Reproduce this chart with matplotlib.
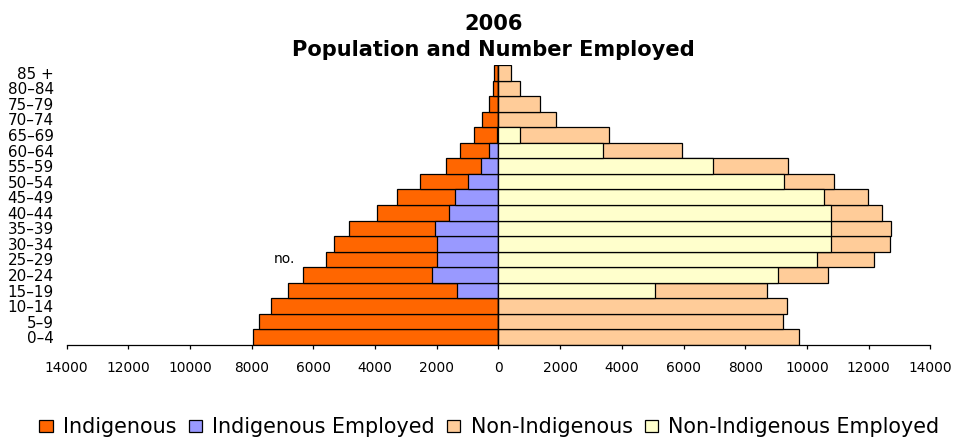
import matplotlib
matplotlib.use("Agg")
import matplotlib.pyplot as plt
from matplotlib.patches import Patch
from matplotlib.ticker import FuncFormatter
import numpy as np

ages = ["0–4", "5–9", "10–14", "15–19", "20–24", "25–29", "30–34", "35–39", "40–44",
        "45–49", "50–54", "55–59", "60–64", "65–69", "70–74", "75–79", "80–84", "85 +"]
indigenous = [7970, 7770, 7360, 6830, 6330, 5580, 5330, 4840, 3940,
              3290, 2540, 1700, 1250, 800, 550, 310, 170, 160]
indigenous_employed = [0, 0, 0, 1360, 2150, 2000, 2000, 2050, 1600,
                       1400, 990, 560, 300, 60, 0, 0, 0, 0]
non_indigenous = [9750, 9240, 9340, 8690, 10690, 12190, 12680, 12740, 12430,
                  11970, 10890, 9400, 5960, 3570, 1850, 1340, 690, 390]
non_indigenous_employed = [0, 0, 0, 5080, 9050, 10340, 10790, 10790, 10790,
                           10540, 9250, 6960, 3380, 690, 0, 0, 0, 0]
xticks = [-14000, -12000, -10000, -8000, -6000, -4000, -2000, 0,
          2000, 4000, 6000, 8000, 10000, 12000, 14000]

c_ind = "#FF6600"
c_ind_emp = "#9999FF"
c_non = "#FFCC99"
c_non_emp = "#FFFFCC"

W, H = 954, 437
fig = plt.figure(figsize=(W / 100, H / 100), dpi=100)
ax = fig.add_axes([66.7 / W, 1 - 345 / H, (930.3 - 66.7) / W, (345 - 65) / H])

y = np.arange(len(ages))
kw = dict(height=1.0, edgecolor="black", linewidth=0.9)
ax.barh(y, -np.array(indigenous), color=c_ind, **kw)
ax.barh(y, -np.array(indigenous_employed), color=c_ind_emp, **kw)
ax.barh(y, non_indigenous, color=c_non, **kw)
ax.barh(y, non_indigenous_employed, color=c_non_emp, **kw)

ax.set_xlim(-14000, 14000)
ax.set_ylim(-0.5, len(ages) - 0.5)
ax.set_xticks(xticks)
ax.xaxis.set_major_formatter(FuncFormatter(lambda v, p: f"{abs(int(v))}"))
ax.tick_params(axis="x", direction="out", length=3, width=0.9, pad=8.6, labelsize=9.9)
ax.set_yticks(y)
ax.set_yticklabels(ages)
ax.tick_params(axis="y", length=0, pad=9.4, labelsize=10.9)
for s in ["left", "right", "top"]:
    ax.spines[s].set_visible(False)
ax.spines["bottom"].set_linewidth(0.9)

ax.text(-6950, 5, "no.", ha="center", va="center", fontsize=10)

fig.text(493.5 / W, 1 - 23.5 / H, "2006", ha="center", va="center",
         fontsize=15.1, fontweight="bold")
fig.text(493.5 / W, 1 - 49.5 / H, "Population and Number Employed", ha="center",
         va="center", fontsize=15.1, fontweight="bold")

handles = [Patch(facecolor=c, edgecolor="black", linewidth=0.9)
           for c in [c_ind, c_ind_emp, c_non, c_non_emp]]
labels = ["Indigenous", "Indigenous Employed", "Non-Indigenous", "Non-Indigenous Employed"]
fig.legend(handles, labels, loc="center", bbox_to_anchor=(489.5 / W, 1 - 427 / H),
           ncol=4, frameon=False, fontsize=14.9, handlelength=0.63, handleheight=0.53,
           handletextpad=0.5, columnspacing=0.6, borderpad=0, borderaxespad=0)

fig.savefig("out.png", dpi=100)
